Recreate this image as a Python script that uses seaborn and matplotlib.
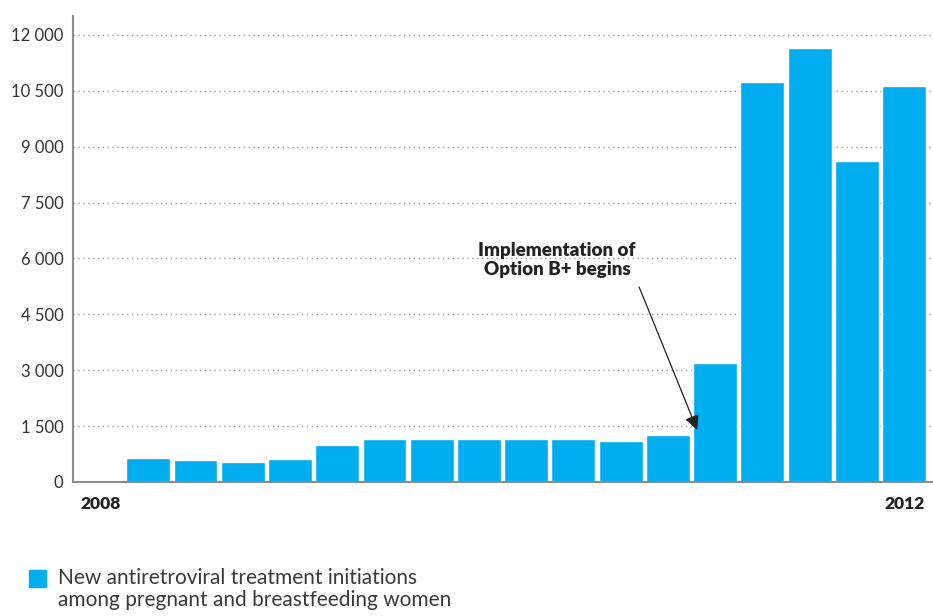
import matplotlib
matplotlib.use("Agg")
import matplotlib.pyplot as plt
from matplotlib.patches import Rectangle
import pandas as pd
import seaborn as sns

# quarterly periods, 2008 Q1 .. 2012 Q2
periods = [f"{y} Q{q}" for y in range(2008, 2013) for q in range(1, 5)][:18]
initiations = [40, 644, 590, 537, 617, 993, 1154, 1154, 1154, 1154, 1154, 1100,
               1270, 3195, 10740, 11650, 8620, 10630]
tick_labels = ["2008"] + [""] * 16 + ["2012"]
y_ticks = [0, 1500, 3000, 4500, 6000, 7500, 9000, 10500, 12000]
legend_label = "New antiretroviral treatment initiations\namong pregnant and breastfeeding women"
note = "Implementation of\nOption B+ begins"

BLUE = "#00AEEF"
TEXT = "#333333"
SPINE = "#8c8c8c"

df = pd.DataFrame({"Period": periods, "Initiations": initiations})

sns.set_style("white")
plt.rcParams["font.family"] = ["Lato", "DejaVu Sans"]

fig = plt.figure(figsize=(9.33, 6.16), dpi=100)
ax = fig.add_axes([73 / 933, 1 - 482 / 616, 1 - 73 / 933, (482 - 16) / 616])

sns.barplot(data=df, x="Period", y="Initiations", color=BLUE, saturation=1,
            width=0.93, ax=ax, zorder=2)

ax.set_xlim(-0.593, 17.61)
ax.set_ylim(0, 12510)
ax.set_yticks(y_ticks)
ax.set_yticklabels([f"{v:,}".replace(",", " ") for v in y_ticks], color=TEXT, fontsize=12)
ax.set_xticks(range(len(periods)))
ax.set_xticklabels(tick_labels, fontsize=12.5, fontweight="heavy", color="#222222")
ax.tick_params(axis="y", length=0, pad=7)
ax.tick_params(axis="x", length=0, pad=10)
ax.set_xlabel("")
ax.set_ylabel("")

ax.yaxis.grid(True, linestyle=(0, (1, 2.5)), color="#999999", linewidth=1, zorder=0)
ax.set_axisbelow(True)
for side in ["top", "right"]:
    ax.spines[side].set_visible(False)
for side in ["left", "bottom"]:
    ax.spines[side].set_color(SPINE)
    ax.spines[side].set_linewidth(1.5)
    ax.spines[side].set_zorder(3)

# annotation: text and arrow
ax.text(9.65, 5960, note, ha="center", va="center", fontsize=13.5,
        fontweight="heavy", color="#222222", linespacing=1.2)
ax.annotate("", xy=(12.62, 1396), xytext=(11.39, 5235),
            arrowprops=dict(arrowstyle="-|>", color="#222222", lw=0.9,
                            mutation_scale=22, shrinkA=0, shrinkB=0))

# legend
fig.patches.append(Rectangle((29 / 933, 1 - 587 / 616), 17 / 933, 17 / 616,
                             transform=fig.transFigure, color=BLUE))
fig.text(58 / 933, 1 - 568 / 616, legend_label, ha="left", va="top",
         fontsize=15, color="#3a3a3a", linespacing=1.12)

fig.savefig("out.png", dpi=100)
